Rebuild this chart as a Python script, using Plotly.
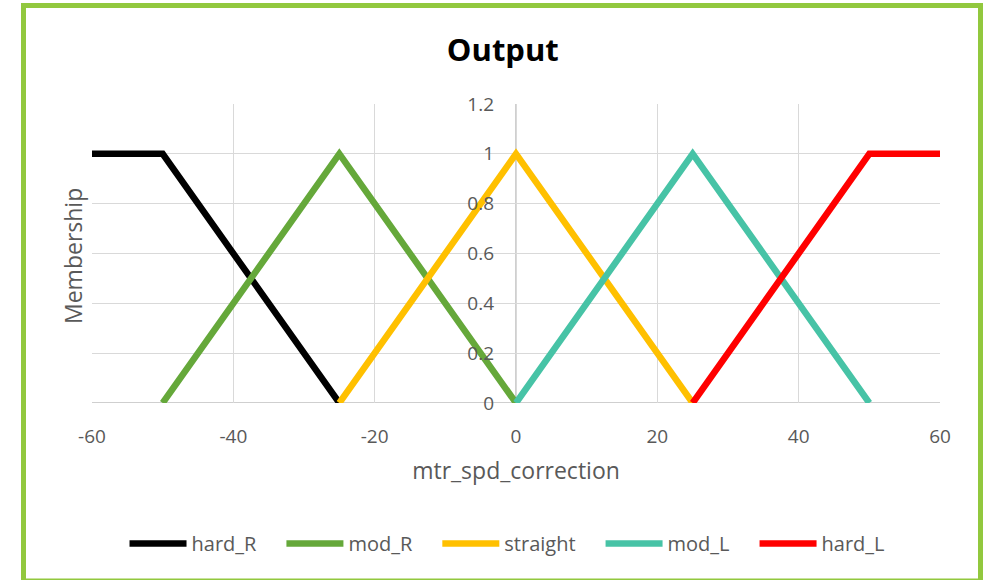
import plotly.graph_objects as go

# Membership functions of the output variable (trapezoid/triangle vertices)
names = ["hard_R", "mod_R", "straight", "mod_L", "hard_L"]
xs = [
    [-60, -50, -25],
    [-50, -25, 0],
    [-25, 0, 25],
    [0, 25, 50],
    [25, 50, 60],
]
ys = [
    [1, 1, 0],
    [0, 1, 0],
    [0, 1, 0],
    [0, 1, 0],
    [0, 1, 1],
]
colors = ["#000000", "#65A83A", "#FFC000", "#47C3A6", "#FF0000"]

x_ticks = [-60, -40, -20, 0, 20, 40, 60]
x_tick_text = ["-60", "-40", "-20", "0", "20", "40", "60"]
y_ticks = [0, 0.2, 0.4, 0.6, 0.8, 1, 1.2]
y_tick_text = ["0", "0.2", "0.4", "0.6", "0.8", "1", "1.2"]

FONT = "Open Sans"
TEXT = "#595959"
GAP = "\u2002\u2002"  # extra room after each legend label

fig = go.Figure()
for i, (name, x, y, c) in enumerate(zip(names, xs, ys, colors)):
    label = name + (GAP if i < len(names) - 1 else "")
    fig.add_trace(go.Scatter(x=x, y=y, name=label, mode="lines",
                             line=dict(color=c, width=6.5)))

fig.update_layout(
    width=984, height=580,
    margin=dict(l=92, r=44, t=104, b=177),
    paper_bgcolor="white", plot_bgcolor="white",
    font=dict(family=FONT, color=TEXT, size=19),
    title=dict(text="<b>Output</b>", x=0.511, xanchor="center",
               y=0.913, yanchor="middle",
               font=dict(family=FONT, size=31, color="#000000")),
    showlegend=True,
    legend=dict(orientation="h", x=0.49, xanchor="center",
                y=-0.47, yanchor="middle",
                font=dict(family=FONT, size=20, color=TEXT),
                itemwidth=57, tracegroupgap=0),
    xaxis=dict(range=[-60, 60], tickvals=x_ticks, ticktext=x_tick_text,
               showgrid=True, gridcolor="#D9D9D9", gridwidth=1,
               zeroline=False, showline=False, ticks="",
               ticklabelstandoff=20,
               tickfont=dict(size=19, color=TEXT),
               title=dict(text="mtr_spd_correction", standoff=14,
                          font=dict(size=23, color=TEXT))),
    yaxis=dict(range=[0, 1.2], tickvals=y_ticks, ticktext=y_tick_text,
               showgrid=True, gridcolor="#D9D9D9", gridwidth=1,
               zeroline=False, showline=False, ticks="",
               anchor="free", position=0.5, ticklabelstandoff=22,
               tickfont=dict(size=19, color=TEXT)),
)

# axis lines: vertical through x=0 and horizontal at y=0
fig.add_shape(type="line", xref="x", yref="paper", x0=0, x1=0, y0=0, y1=1,
              line=dict(color="#BFBFBF", width=1.5), layer="below")
fig.add_shape(type="line", xref="paper", yref="y", x0=0, x1=1, y0=0, y1=0,
              line=dict(color="#BFBFBF", width=1.5), layer="below")

# y-axis title at the left of the plot area
fig.add_annotation(text="Membership", xref="paper", yref="paper",
                   x=(73 - 92) / 848, y=(403 - 256) / 299, textangle=-90,
                   showarrow=False, xanchor="center", yanchor="middle",
                   font=dict(family=FONT, size=23, color=TEXT))

# green chart frame
fig.add_shape(type="rect", xref="paper", yref="paper",
              x0=(23.5 - 92) / 848, x1=(980.5 - 92) / 848,
              y0=(403 - 581) / 299, y1=(403 - 5.5) / 299,
              line=dict(color="#92C83E", width=5), layer="below")

fig.write_html("out.html")
